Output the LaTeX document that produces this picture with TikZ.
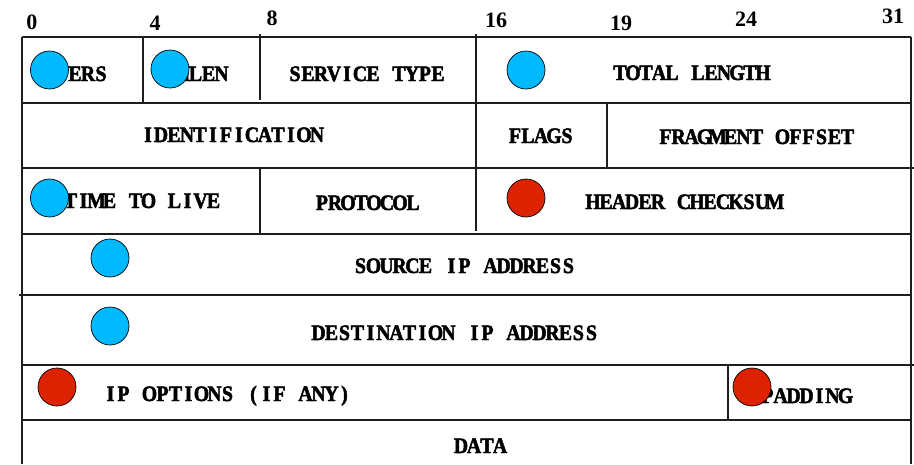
\documentclass[tikz,border=0pt]{standalone}
\usepackage{fontspec}
\setmainfont{Liberation Serif}
\newfontfamily\fieldfont{Liberation Serif}[UprightFont={* Bold}, FakeStretch=0.9, FakeBold=2.2]
\definecolor{dotblue}{HTML}{00B9FF}
\definecolor{dotred}{HTML}{DD2200}
\definecolor{gridline}{HTML}{1E1E1E}
% fixed-pitch typesetting of condensed bold serif capitals
\ExplSyntaxOn
\NewDocumentCommand\monotext{m}
  { \str_map_inline:nn {#1} { \makebox[13pt]{##1} } }
\ExplSyntaxOff
\tikzset{
  field/.style={anchor=base, inner sep=0pt, font=\fieldfont\fontsize{22}{22}\selectfont},
  bitnum/.style={anchor=base, inner sep=0pt, font=\fontsize{22}{22}\selectfont\bfseries},
  grid/.style={draw=gridline, line width=1.6pt},
  dot/.style={circle, draw=black, line width=0.7pt, minimum size=38pt, inner sep=0pt},
  bluedot/.style={dot, fill=dotblue},
  reddot/.style={dot, fill=dotred},
}
\begin{document}
\begin{tikzpicture}[x=1pt,y=-1pt]
\useasboundingbox (0,0) rectangle (914,464);
% bit numbers
\node[bitnum] (b0)  at (32,29)  {0};
\node[bitnum] (b4)  at (155,30) {4};
\node[bitnum] (b8)  at (272,25) {8};
\node[bitnum] (b16) at (496,27) {16};
\node[bitnum] (b19) at (621,30) {19};
\node[bitnum] (b24) at (746,26) {24};
\node[bitnum] (b31) at (893,23) {31};
% horizontal rules
\draw[grid] (22,37) -- (911,37);
\draw[grid] (22,103) -- (911,103);
\draw[grid] (22,168) -- (914,168);
\draw[grid] (22,234) -- (911,234);
\draw[grid] (19,295) -- (911,295);
\draw[grid] (22,365) -- (914,365);
\draw[grid] (22,420) -- (911,420);
% outer verticals
\draw[grid] (22,37) -- (22,464);
\draw[grid] (911,37) -- (911,464);
% inner verticals
\draw[grid] (143,37) -- (143,103);
\draw[grid] (260,34) -- (260,100);
\draw[grid] (260,168) -- (260,234);
\draw[grid] (476,34) -- (476,231);
\draw[grid] (607,103) -- (607,168);
\draw[grid] (728,365) -- (728,420);
% field labels
\node[field] (vers)  at (81.5,81)  {\monotext{VERS}};
\node[field] (hlen)  at (202,81)   {\monotext{HLEN}};
\node[field] (serv)  at (366.5,81) {\monotext{SERVICE TYPE}};
\node[field] (total) at (691.5,80) {\monotext{TOTAL LENGTH}};
\node[field] (ident) at (232.5,142){\monotext{IDENTIFICATION}};
\node[field] (flags) at (541,143)  {\monotext{FLAGS}};
\node[field] (frag)  at (756.5,144){\monotext{FRAGMENT OFFSET}};
\node[field] (ttl)   at (142,208)  {\monotext{TIME TO LIVE}};
\node[field] (proto) at (367.5,210){\monotext{PROTOCOL}};
\node[field] (hcs)   at (684,209)  {\monotext{HEADER CHECKSUM}};
\node[field] (src)   at (464.5,273){\monotext{SOURCE IP ADDRESS}};
\node[field] (dst)   at (455,340)  {\monotext{DESTINATION IP ADDRESS}};
\node[field] (opts)  at (227.5,401){\monotext{IP OPTIONS (IF ANY)}};
\node[field] (pad)   at (806.5,403){\monotext{PADDING}};
\node[field] (data)  at (480.5,453){\monotext{DATA}};
% dots
\node[bluedot] (d1) at (49.5,70) {};
\node[bluedot] (d2) at (170,69)  {};
\node[bluedot] (d3) at (526,70)  {};
\node[bluedot] (d4) at (49.5,198){};
\node[reddot]  (d5) at (526,198) {};
\node[bluedot] (d6) at (110,258) {};
\node[bluedot] (d7) at (110,326) {};
\node[reddot]  (d8) at (57,387)  {};
\node[reddot]  (d9) at (752,387) {};
\end{tikzpicture}
\end{document}
